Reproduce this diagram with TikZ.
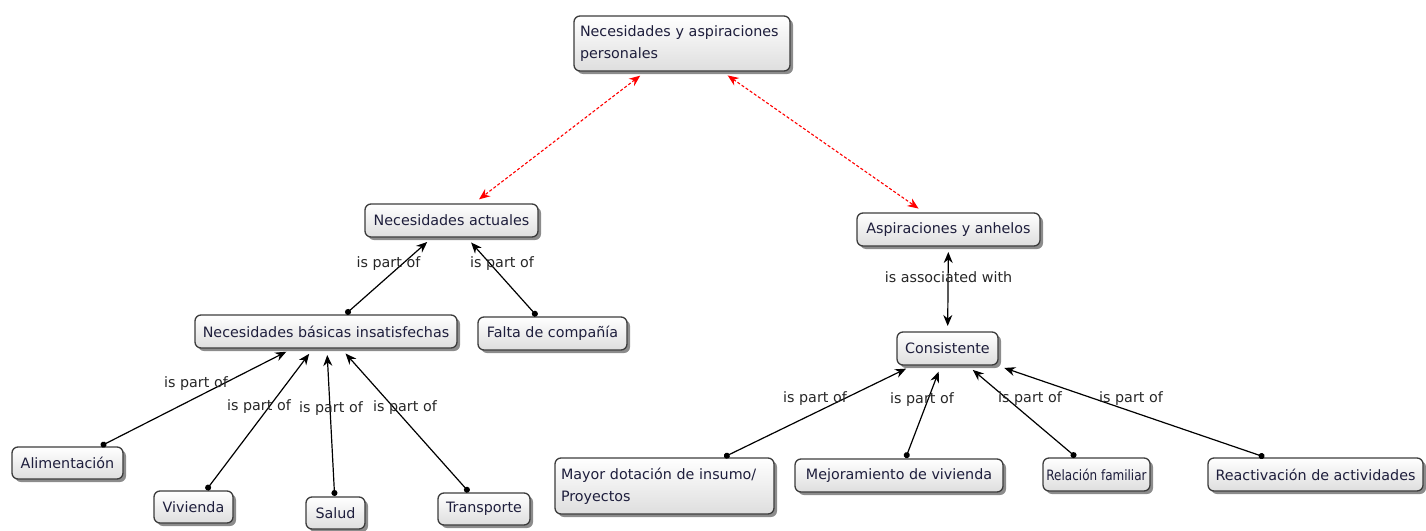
\documentclass[tikz,border=0pt]{standalone}
\usepackage{fontspec}
\setmainfont{DejaVu Sans}
\newfontfamily\condfont[FakeStretch=0.84]{DejaVu Sans}
\usetikzlibrary{arrows.meta,shadows}
\definecolor{txt}{HTML}{1E1E3C}
\definecolor{bord}{HTML}{3C3C3C}
\begin{document}
\begin{tikzpicture}[x=1pt,y=-1pt,
  concept/.style={draw=bord, line width=1.3pt, rounded corners=6pt,
    top color=white, bottom color=black!13, text=txt,
    font=\fontsize{14.3}{22}\selectfont, inner sep=0pt, outer sep=1pt,
    drop shadow={shadow xshift=3pt,shadow yshift=-3pt,fill=black,opacity=0.45}},
  multi/.style={concept, align=left, inner xsep=6pt},
  part/.style={draw=black, line width=1.2pt,
    {Circle[length=6pt]}-{Stealth[length=11pt,width=9pt]}, shorten >=6pt},
  assoc/.style={draw=black, line width=1.2pt,
    {Stealth[length=11pt,width=9pt]}-{Stealth[length=11pt,width=9pt]},
    shorten >=5pt, shorten <=5pt},
  redlink/.style={draw=red, line width=1.1pt, dash pattern=on 3pt off 2pt,
    {Stealth[length=11pt,width=9pt]}-{Stealth[length=11pt,width=9pt]},
    shorten >=6pt, shorten <=6pt},
  lbl/.style={text=black!85, font=\fontsize{14.3}{17}\selectfont, inner sep=0pt}
]
\useasboundingbox (0,0) rectangle (1426,530);

% nodes
\node[multi, text width=204pt, minimum height=55pt] (top) at (682,43.5)
  {Necesidades y aspiraciones\\personales};
\node[concept, minimum width=173pt, minimum height=33pt] (act) at (451.5,220.5) {Necesidades actuales};
\node[concept, minimum width=183pt, minimum height=33pt] (asp) at (948.5,229.5) {Aspiraciones y anhelos};
\node[concept, minimum width=262pt, minimum height=33pt] (bas) at (326,331.5) {Necesidades básicas insatisfechas};
\node[concept, minimum width=149pt, minimum height=33pt] (falta) at (552.5,333.5) {Falta de compañía};
\node[concept, minimum width=101pt, minimum height=33pt] (cons) at (947.5,348.5) {Consistente};
\node[concept, minimum width=111pt, minimum height=32pt] (alim) at (67.5,463) {Alimentación};
\node[concept, minimum width=79pt, minimum height=32pt] (viv) at (193.5,507) {Vivienda};
\node[concept, minimum width=59pt, minimum height=32pt] (salud) at (335.5,513) {Salud};
\node[concept, minimum width=92pt, minimum height=32pt] (trans) at (484,509) {Transporte};
\node[multi, text width=207pt, minimum height=56pt] (mayor) at (664.5,486)
  {Mayor dotación de insumo/\\Proyectos};
\node[concept, minimum width=208pt, minimum height=33pt] (mejor) at (899,475.5) {Mejoramiento de vivienda};
\node[concept, minimum width=107pt, minimum height=33pt,
  font=\condfont\fontsize{14.3}{22}\selectfont] (rel) at (1096.5,474.5) {Relación familiar};
\node[concept, minimum width=215pt, minimum height=33pt] (react) at (1315.5,474.5) {Reactivación de actividades};

% connectors
\draw[redlink] (top) -- (act);
\draw[redlink] (top) -- (asp);
\draw[part] (bas) -- (act);
\draw[part] (falta) -- (act);
\draw[part] (alim) -- (bas);
\draw[part] (viv) -- (bas);
\draw[part] (salud) -- (bas);
\draw[part] (trans) -- (bas);
\draw[assoc] (asp) -- (cons);
\draw[part] (mayor) -- (cons);
\draw[part] (mejor) -- (cons);
\draw[part] (rel) -- (cons);
\draw[part] (react) -- (cons);

% labels
\node[lbl] (l1) at (388.5,264) {is part of};
\node[lbl] (l2) at (502,264) {is part of};
\node[lbl] (l3) at (196,384) {is part of};
\node[lbl] (l4) at (259,407) {is part of};
\node[lbl] (l5) at (331,409) {is part of};
\node[lbl] (l6) at (405,408) {is part of};
\node[lbl] (l7) at (948.5,277) {is associated with};
\node[lbl] (l8) at (815,399) {is part of};
\node[lbl] (l9) at (922,400) {is part of};
\node[lbl] (l10) at (1030,399) {is part of};
\node[lbl] (l11) at (1131,399) {is part of};
\end{tikzpicture}
\end{document}
